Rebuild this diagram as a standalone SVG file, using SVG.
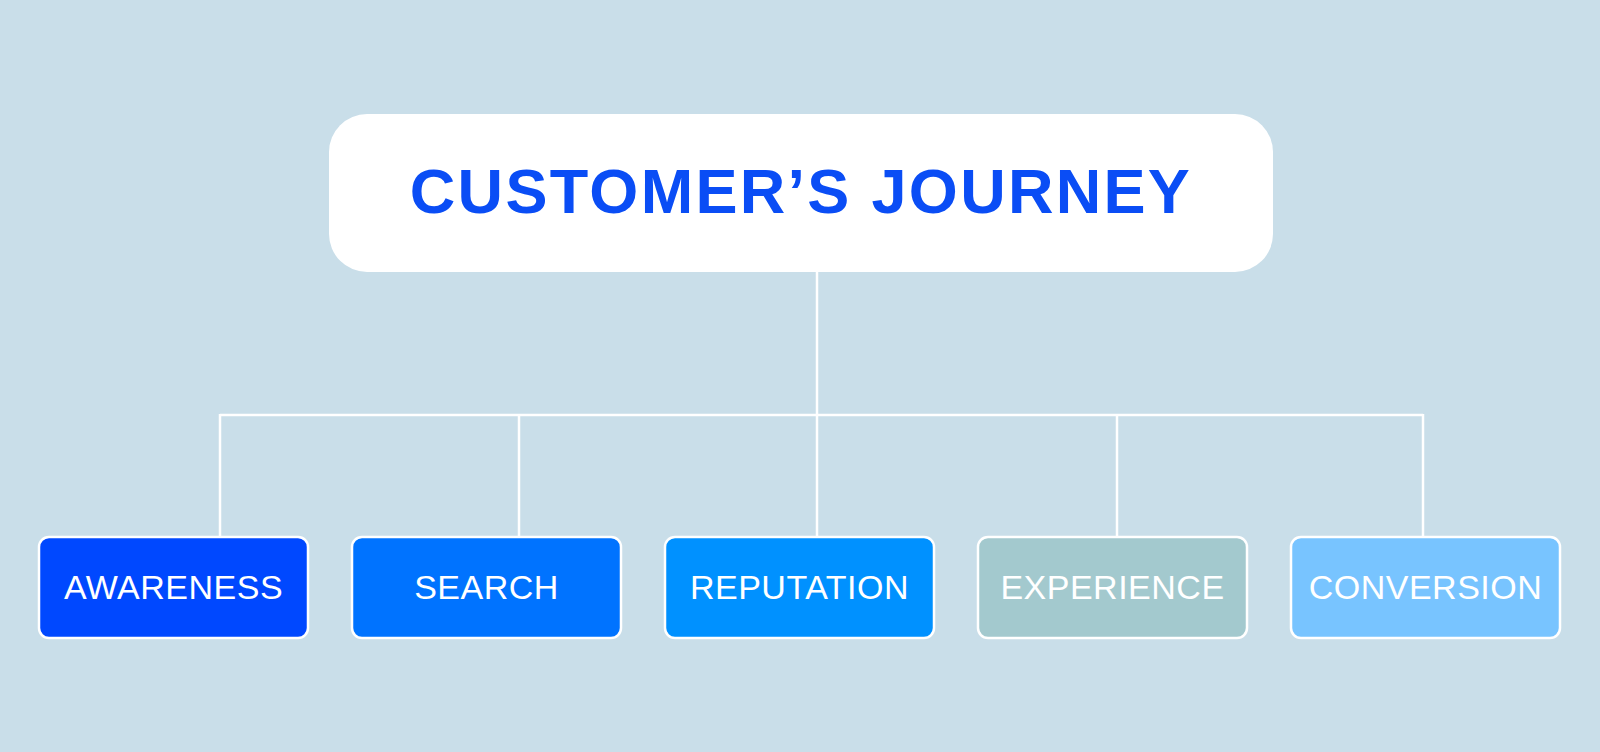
<svg xmlns="http://www.w3.org/2000/svg" width="1600" height="752" viewBox="0 0 1600 752">
<style>
.bg{fill:#C9DEE9}
.title-box{fill:#FFFFFF}
.title{font-family:"Liberation Sans",Arial,sans-serif;font-weight:bold;font-size:63px;fill:#0A4DF5;letter-spacing:2.3px}
.box{stroke:#FFFFFF;stroke-width:2.5}
.label{font-family:"Liberation Sans",Arial,sans-serif;font-size:34px;fill:#FFFFFF;letter-spacing:0.5px}
.conn{stroke:#FFFFFF;stroke-width:2.5;fill:none}
</style>
<rect class="bg" x="0" y="0" width="1600" height="752"/>
<g id="connectors">
<line class="conn" x1="817" y1="271" x2="817" y2="537"/>
<line class="conn" x1="220" y1="415" x2="1423" y2="415"/>
<line class="conn" x1="220" y1="414" x2="220" y2="537"/>
<line class="conn" x1="519" y1="414" x2="519" y2="537"/>
<line class="conn" x1="1117" y1="414" x2="1117" y2="537"/>
<line class="conn" x1="1423" y1="414" x2="1423" y2="537"/>
</g>
<g id="title">
<rect class="title-box" x="329" y="114" width="944" height="158" rx="38" ry="38"/>
<text class="title" x="801" y="213" text-anchor="middle">CUSTOMER’S JOURNEY</text>
</g>
<g id="awareness">
<rect class="box" x="39" y="537" width="269" height="101" rx="10" fill="#0048FF"/>
<text class="label" x="173.5" y="599" text-anchor="middle">AWARENESS</text>
</g>
<g id="search">
<rect class="box" x="352" y="537" width="269" height="101" rx="10" fill="#0073FF"/>
<text class="label" x="486.5" y="599" text-anchor="middle">SEARCH</text>
</g>
<g id="reputation">
<rect class="box" x="665" y="537" width="269" height="101" rx="10" fill="#0091FF"/>
<text class="label" x="799.5" y="599" text-anchor="middle">REPUTATION</text>
</g>
<g id="experience">
<rect class="box" x="978" y="537" width="269" height="101" rx="10" fill="#A3C9CE"/>
<text class="label" x="1112.5" y="599" text-anchor="middle">EXPERIENCE</text>
</g>
<g id="conversion">
<rect class="box" x="1291" y="537" width="269" height="101" rx="10" fill="#78C4FF"/>
<text class="label" x="1425.5" y="599" text-anchor="middle">CONVERSION</text>
</g>
</svg>
